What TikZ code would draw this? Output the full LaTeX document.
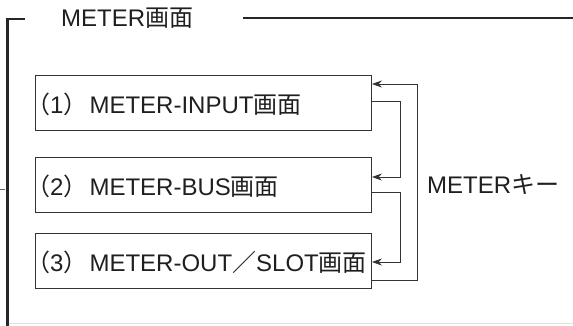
\documentclass[tikz,border=0pt]{standalone}
\usepackage{fontspec}
\setmainfont{Liberation Sans}
\newfontfamily\cjk{Noto Sans CJK JP}
\usetikzlibrary{arrows.meta}
\begin{document}
\begin{tikzpicture}[x=1pt,y=-1pt,
  frame/.style={line width=2.4pt,color=black!85},
  scrbox/.style={draw=black!80,line width=0.9pt,minimum width=336pt,minimum height=55pt,anchor=north west,inner sep=0pt},
  lbl/.style={inner sep=0pt,anchor=west,font=\fontsize{24}{26}\selectfont,text=black!88},
  conn/.style={draw=black!80,line width=0.9pt},
  arr/.style={conn,-{Stealth[length=10pt,width=7pt]}}]
\useasboundingbox (0,0) rectangle (573,325);
% outer frame
\coordinate (fTL) at (7.5,19);
\coordinate (fBL) at (7.5,326);
\coordinate (fT1) at (25,19);
\coordinate (fT2) at (243,18);
\coordinate (fTR) at (573,18);
\draw[frame] (fBL) -- (fTL) -- (fT1);
\draw[frame] (fT2) -- (fTR);
\node[lbl] (title) at (61,18) {METER{\cjk 画面}};
\coordinate (bot1) at (9,323.5);
\coordinate (bot2) at (573,323.5);
\draw[black!12,line width=1pt] (bot1) -- (bot2);
\coordinate (tk1) at (0,189);
\coordinate (tk2) at (5,189);
\draw[black!60,line width=0.6pt] (tk1) -- (tk2);
% boxes
\node[scrbox] (b1) at (35,75) {};
\node[scrbox] (b2) at (35,157) {};
\node[scrbox] (b3) at (35,233) {};
\node[lbl] (t1) at (26,104) {{\cjk （}1{\cjk ）}\kern2pt METER-INPUT{\cjk 画面}};
\node[lbl] (t2) at (26,186) {{\cjk （}2{\cjk ）}\kern2pt METER-BUS{\cjk 画面}};
\node[lbl] (t3) at (26,262) {{\cjk （}3{\cjk ）}\kern2pt METER-OUT{\cjk ／}SLOT{\cjk 画面}};
% connectors
\coordinate (c1) at (400,101);
\coordinate (c2) at (400,177);
\coordinate (c3) at (400,192);
\coordinate (c4) at (400,262);
\coordinate (o1) at (417,280);
\coordinate (o2) at (417,84);
\draw[arr] (b1.east |- c1) -- (c1) -- (c2) -- (b2.east |- c2);
\draw[arr] (b2.east |- c3) -- (c3) -- (c4) -- (b3.east |- c4);
\draw[arr] (b3.east |- o1) -- (o1) -- (o2) -- (b1.east |- o2);
\node[lbl] (key) at (427,185) {METER{\cjk キー}};
\end{tikzpicture}
\end{document}
